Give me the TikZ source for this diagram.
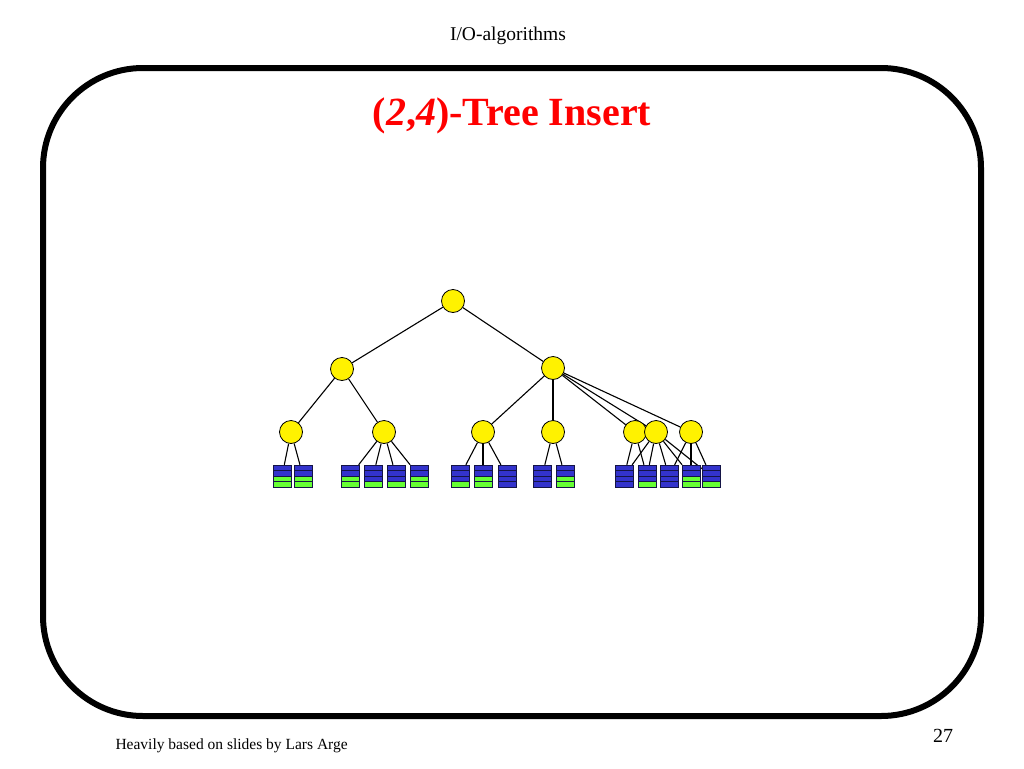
\documentclass[tikz,border=0pt]{standalone}
\usepackage{fontspec}
\setmainfont{Liberation Serif}
\pgfdeclarelayer{bg}
\pgfsetlayers{bg,main}
\definecolor{lblue}{RGB}{51,51,204}
\definecolor{lgreen}{RGB}{102,255,51}
\definecolor{lnavy}{RGB}{20,20,70}
\definecolor{titlered}{RGB}{255,0,0}
\tikzset{
  knot/.style={circle,draw=black,line width=0.8pt,fill=yellow,minimum size=23pt,inner sep=0pt},
  leafnode/.style={rectangle,minimum width=18pt,minimum height=22pt,inner sep=0pt},
  edge/.style={line width=1.1pt,black},
  stripe/.style={draw=lnavy,line width=1pt},
}
\newcommand\leafbox[3]{%
  \node[leafnode] (#1) at (#2,476) {};
  \foreach \c [count=\i] in {#3} {
    \filldraw[stripe,fill=\c] ({#2-9},{465+(\i-1)*5.5}) rectangle ({#2+9},{465+\i*5.5});
  }
}
\begin{document}
\begin{tikzpicture}[x=1pt,y=-1pt]
\useasboundingbox (0,0) rectangle (1024,768);
% frame
\draw[line width=6pt,rounded corners=100pt] (43,68) rectangle (981,716);
% texts
\node[anchor=base,font=\fontsize{19.5}{23}\selectfont] (hdr) at (508,41) {I/O-algorithms};
\node[anchor=base,text=titlered,font=\fontsize{40}{48}\selectfont\bfseries] (ttl) at (512,125) {(\textit{2},\textit{4})-Tree Insert};
\node[anchor=base west,font=\fontsize{15.5}{18}\selectfont] (ftr) at (112,749) {Heavily based on slides by Lars Arge};
\node[anchor=base,font=\fontsize{20}{24}\selectfont] (pg) at (943,742) {27};
% tree nodes
\node[knot] (r) at (453,301) {};
\node[knot] (a) at (342,369) {};
\node[knot] (b) at (553,368) {};
\node[knot] (a1) at (291,432) {};
\node[knot] (a2) at (384,432) {};
\node[knot] (b1) at (483,432) {};
\node[knot] (b2) at (553,432) {};
\node[knot] (b3) at (635,432) {};
\node[knot] (b4) at (656,432) {};
\node[knot] (b5) at (691,432) {};
% leaves
\leafbox{l1}{282}{lblue,lblue,lgreen,lgreen}
\leafbox{l2}{303}{lblue,lblue,lgreen,lgreen}
\leafbox{l3}{350}{lblue,lblue,lgreen,lgreen}
\leafbox{l4}{373}{lblue,lblue,lblue,lgreen}
\leafbox{l5}{396}{lblue,lblue,lblue,lgreen}
\leafbox{l6}{419}{lblue,lblue,lgreen,lgreen}
\leafbox{l7}{460}{lblue,lblue,lblue,lgreen}
\leafbox{l8}{483}{lblue,lblue,lgreen,lgreen}
\leafbox{l9}{507}{lblue,lblue,lblue,lblue}
\leafbox{l10}{542}{lblue,lblue,lblue,lblue}
\leafbox{l11}{565}{lblue,lblue,lgreen,lgreen}
\leafbox{l12}{624}{lblue,lblue,lblue,lblue}
\leafbox{l13}{647}{lblue,lblue,lblue,lgreen}
\leafbox{l14}{669}{lblue,lblue,lblue,lblue}
\leafbox{l15}{691}{lblue,lblue,lgreen,lgreen}
\leafbox{l16}{711}{lblue,lblue,lblue,lgreen}
% edges
\begin{pgfonlayer}{bg}
\draw[edge] (r) -- (a);
\draw[edge] (r) -- (b);
\draw[edge] (a) -- (a1);
\draw[edge] (a) -- (a2);
\foreach \t in {b1,b2,b3,b4,b5} \draw[edge] (b) -- (\t);
\foreach \t in {l1,l2} \draw[edge] (a1) -- (\t);
\foreach \t in {l3,l4,l5,l6} \draw[edge] (a2) -- (\t);
\foreach \t in {l7,l8,l9} \draw[edge] (b1) -- (\t);
\foreach \t in {l10,l11} \draw[edge] (b2) -- (\t);
\foreach \t in {l12,l13} \draw[edge] (b3) -- (\t);
\foreach \t in {l12,l13,l14,l15,l16} \draw[edge] (b4) -- (\t);
\foreach \t in {l14,l15,l16} \draw[edge] (b5) -- (\t);
\end{pgfonlayer}
\end{tikzpicture}
\end{document}
